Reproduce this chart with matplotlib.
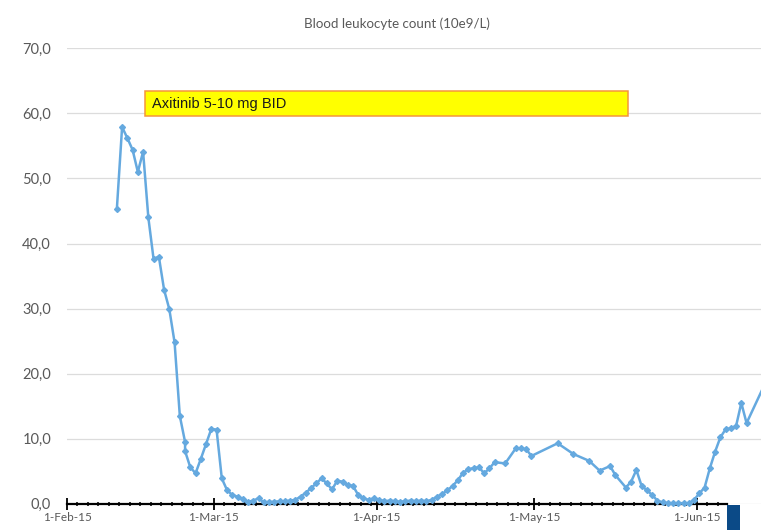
import matplotlib
matplotlib.use("Agg")
import matplotlib.pyplot as plt
import matplotlib.dates as mdates
import matplotlib.ticker as mticker
from matplotlib.patches import Rectangle
import pandas as pd

# leukocyte counts (10e9/L), one per sampling day
feb_days = [10, 11, 12, 13, 14, 15, 16, 17, 18, 19, 20, 21, 22, 23, 23, 24, 25, 26, 27, 28]
feb_vals = [45.3, 57.9, 56.2, 54.4, 51.0, 54.1, 44.0, 37.6, 38.0, 32.9, 29.9, 24.8,
            13.5, 9.5, 8.1, 5.6, 4.7, 6.9, 9.2, 11.5]
mar_days = list(range(1, 32))
mar_vals = [11.4, 3.9, 2.1, 1.35, 1.1, 0.7, 0.3, 0.5, 0.85, 0.2, 0.3, 0.3, 0.4, 0.4, 0.5,
            0.6, 1.1, 1.7, 2.4, 3.15, 3.9, 3.15, 2.2, 3.55, 3.4, 2.9, 2.75, 1.35, 0.85, 0.6, 0.85]
apr_days = [1, 2, 3, 4, 5, 6, 7, 8, 9, 10, 11, 12, 13, 14, 15, 16, 17, 18, 19, 20, 21, 22,
            23, 25, 27, 28, 29, 30]
apr_vals = [0.6, 0.4, 0.5, 0.4, 0.3, 0.4, 0.5, 0.4, 0.5, 0.4, 0.6, 1.1, 1.5, 2.1, 2.75,
            3.65, 4.8, 5.3, 5.5, 5.6, 4.7, 5.45, 6.4, 6.2, 8.5, 8.5, 8.4, 7.35]
may_days = [5, 8, 11, 13, 15, 16, 18, 19, 20, 21, 22, 23, 24, 25, 26, 27, 28, 29, 30, 31]
may_vals = [9.3, 7.65, 6.6, 5.1, 5.8, 4.4, 2.5, 3.4, 5.2, 2.75, 2.1, 1.35, 0.5, 0.2,
            0.1, 0.1, 0.1, 0.1, 0.1, 0.6]
jun_days = [1, 2, 3, 4, 5, 6, 7, 8, 9, 10, 14]
jun_vals = [1.6, 2.5, 5.45, 8.0, 10.2, 11.45, 11.6, 11.95, 15.5, 12.4, 19.3]

months = [(2, feb_days, feb_vals), (3, mar_days, mar_vals), (4, apr_days, apr_vals),
          (5, may_days, may_vals), (6, jun_days, jun_vals)]
dates, wbc = [], []
for m, days, vals in months:
    dates += [pd.Timestamp(2015, m, d, 12) for d in days]
    wbc += vals

y_ticks = [0, 10, 20, 30, 40, 50, 60, 70]
title = "Blood leukocyte count (10e9/L)"
label = "Axitinib 5-10 mg BID"

grey = "#595959"
blue = "#65a9df"

fig = plt.figure(figsize=(7.61, 5.30), dpi=100)
ax = fig.add_axes([67 / 761, 26.2 / 530, 694 / 761, 455.5 / 530])

start = pd.Timestamp("2015-02-01")
ax.set_xlim(start, start + pd.Timedelta(days=132.25))
ax.set_ylim(0, 70)

ax.plot(dates, wbc, color=blue, lw=1.8, marker="D", ms=3.0, mec=blue, mfc=blue,
        zorder=4, clip_on=False)

# grid and axes
ax.set_yticks(y_ticks)
ax.yaxis.set_major_formatter(mticker.FuncFormatter(lambda v, p: f"{v:.1f}".replace(".", ",")))
ax.grid(axis="y", color="#dcdcdc", lw=0.9, zorder=0)
ax.tick_params(axis="y", length=0, pad=11.5, labelsize=10.5, labelcolor=grey)
for s in ["top", "right", "left"]:
    ax.spines[s].set_visible(False)
axis_end = start + pd.Timedelta(days=125.8)
ax.spines["bottom"].set_bounds(mdates.date2num(start), mdates.date2num(axis_end))
ax.spines["bottom"].set_linewidth(1.6)
ax.spines["bottom"].set_zorder(3)

ax.xaxis.set_major_locator(mticker.FixedLocator(
    mdates.date2num(pd.date_range("2015-02-01", "2015-06-01", freq="MS"))))
ax.xaxis.set_minor_locator(mticker.FixedLocator(
    mdates.date2num(pd.date_range("2015-02-01", "2015-06-06", freq="2D"))))
ax.xaxis.set_major_formatter(mticker.FuncFormatter(
    lambda v, p: (lambda d: f"{d.day}-{d.strftime('%b-%y')}")(mdates.num2date(v))))
ax.tick_params(axis="x", which="major", direction="inout", length=8, width=1.3,
               color="black", labelsize=8.5, labelcolor=grey, pad=2)
ax.tick_params(axis="x", which="minor", direction="inout", length=3.5, width=1.1,
               color="black")

for lab in ax.get_xticklabels() + ax.get_yticklabels():
    lab.set_family("Lato")

fig.text(397 / 761, 1 - 24 / 530, title, ha="center", va="center", fontsize=9.6,
         color=grey, family="Lato")

# treatment box
box_x0 = start + pd.Timedelta(days=14.86)
box_x1 = start + pd.Timedelta(days=106.9)
x0 = mdates.date2num(box_x0)
ax.add_patch(Rectangle((x0, 59.6), mdates.date2num(box_x1) - x0, 3.8,
                       facecolor="#ffff00", edgecolor="#f5963c", lw=1.1, zorder=5))
ax.text(x0 + 1.35, 61.5, label, ha="left", va="center", fontsize=10.5,
        family="Liberation Sans", color="#1a1a1a", zorder=6)

# dark block at the bottom right edge
fig.patches.append(Rectangle((727 / 761, 0), 13 / 761, 25 / 530, transform=fig.transFigure,
                             facecolor="#0b4a87", edgecolor="none", zorder=1))

fig.savefig("out.png", dpi=100)
